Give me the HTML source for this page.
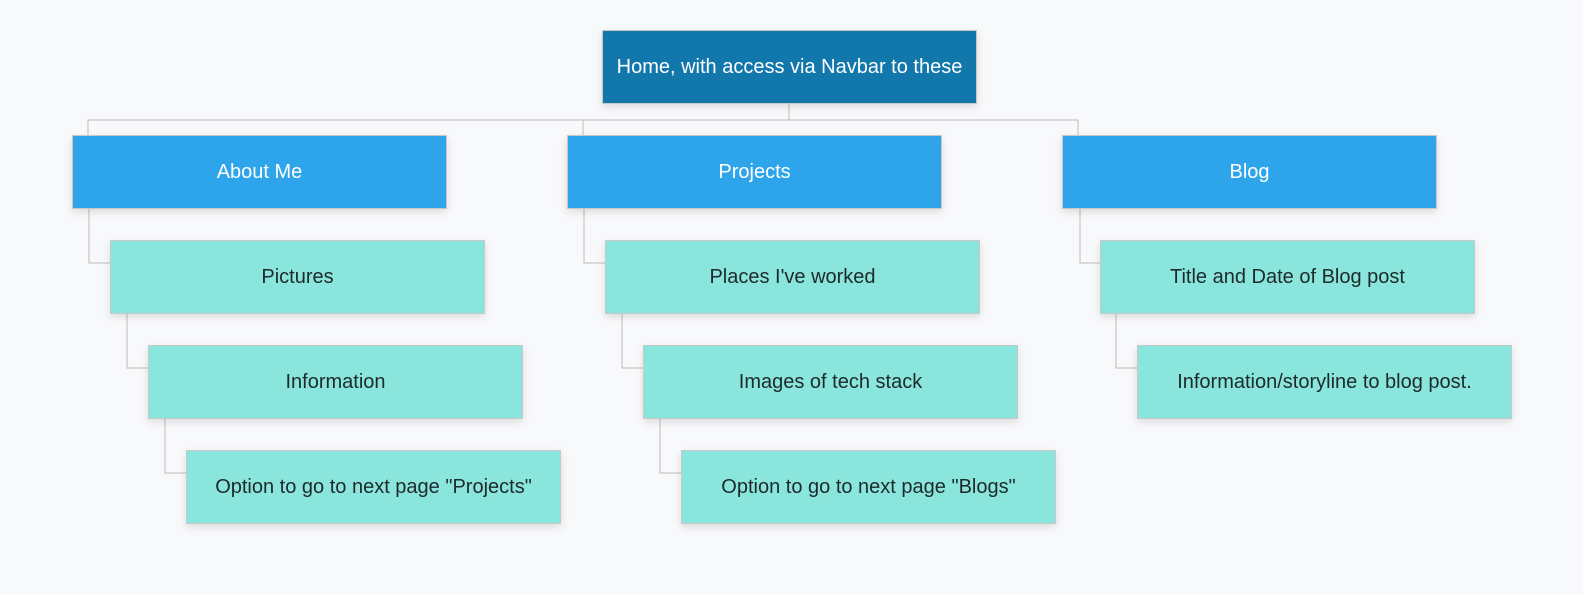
<!DOCTYPE html>
<html><head><meta charset="utf-8"><style>
body{margin:0;width:1583px;height:595px;background:#f8f9fb;position:relative;overflow:hidden;font-family:"Liberation Sans","DejaVu Sans",sans-serif;}
.b{position:absolute;width:373px;height:72px;border:1px solid #c8c8c8;display:flex;align-items:center;justify-content:center;font-size:20px;box-shadow:0 3px 8px rgba(0,0,0,0.12);}
.h{background:#1277ab;color:#fff;}
.l1{background:#2ea5ea;color:#fff;}
.l2{background:#8ae5dc;color:#1d2a2a;}
svg{position:absolute;left:0;top:0;}
</style></head><body>
<svg width="1583" height="595"><g stroke="#bcbcbc" stroke-width="1" fill="none" shape-rendering="crispEdges">
<path d="M789 104V120M88 135V120H1078V135M583 120V135"/>
<path d="M89 209V263H110M127 314V368H148M165 419V473H186"/>
<path d="M584 209V263H605M622 314V368H643M660 419V473H681"/>
<path d="M1080 209V263H1100M1116 314V368H1137"/>
</g></svg>
<div class="b h" style="left:602px;top:30px">Home, with access via Navbar to these</div>
<div class="b l1" style="left:72px;top:135px">About Me</div>
<div class="b l1" style="left:567px;top:135px">Projects</div>
<div class="b l1" style="left:1062px;top:135px">Blog</div>
<div class="b l2" style="left:110px;top:240px">Pictures</div>
<div class="b l2" style="left:148px;top:345px">Information</div>
<div class="b l2" style="left:186px;top:450px">Option to go to next page "Projects"</div>
<div class="b l2" style="left:605px;top:240px">Places I've worked</div>
<div class="b l2" style="left:643px;top:345px">Images of tech stack</div>
<div class="b l2" style="left:681px;top:450px">Option to go to next page "Blogs"</div>
<div class="b l2" style="left:1100px;top:240px">Title and Date of Blog post</div>
<div class="b l2" style="left:1137px;top:345px">Information/storyline to blog post.</div>
</body></html>
